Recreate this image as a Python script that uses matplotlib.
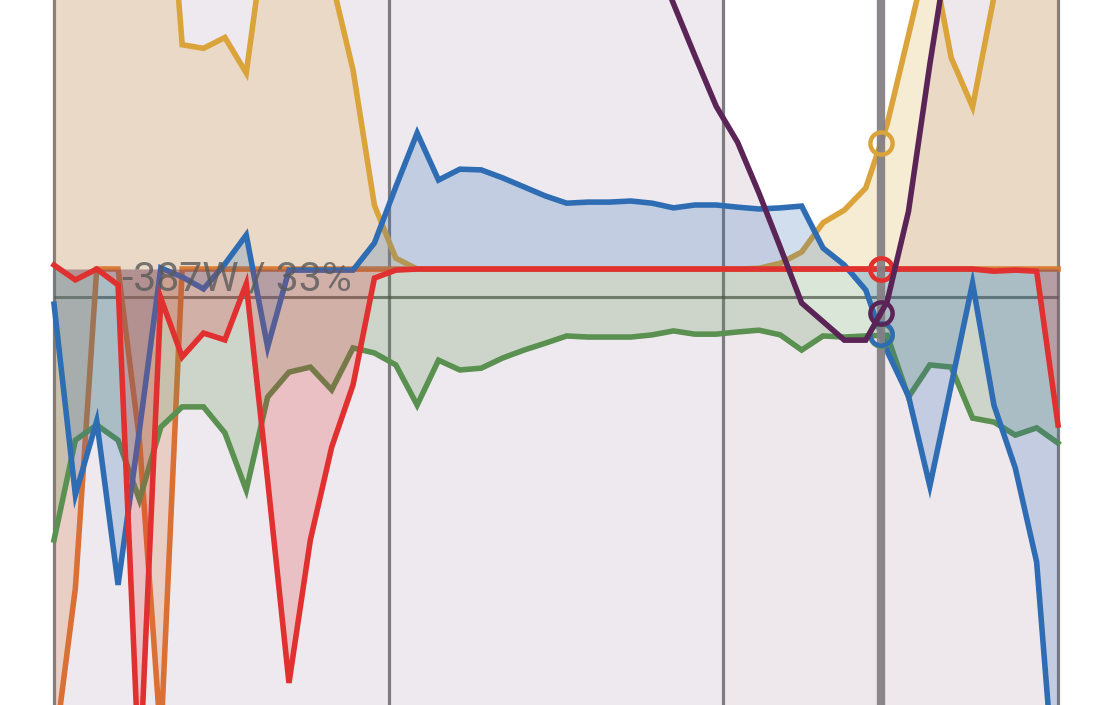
import numpy as np
import matplotlib.pyplot as plt

# samples: 48 points spread over 3 hours
n_points = 48
hours = np.linspace(0, 3, n_points)

# power flows (W)
solar = [6500, 6800, 7000, 7100, 7000, 6900, 3100, 3050, 3200, 2710, 4880, 5200,
         5000, 3990, 2750, 880, 150, 0, 0, 0, 0, 0, 0, 0,
         0, 0, 0, 0, 0, 0, 0, 0, 0, 10, 80, 235,
         640, 815, 1120, 2000, 3230, 4480, 2920, 2240, 3760, 4300, 4500, 4400]
grid = [55, -150, 0, -220, -7060, -400, -1215, -885, -980, -205, -2915, -5720,
        -3745, -2460, -1600, -125, -15, 0, 0, 0, 0, 0, 0, 0,
        0, 0, 0, 0, 0, 0, 0, 0, 0, 0, 0, 0,
        0, 0, 0, 0, 0, 0, 0, 0, -30, -15, -30, -2155]
battery = [-485, -3120, -2100, -4365, -2225, 15, -110, -275, 70, 470, -1080, -15,
           -15, -15, -15, 360, 1135, 1880, 1230, 1380, 1370, 1260, 1135, 1010,
           910, 925, 925, 940, 910, 845, 885, 885, 855, 830, 845, 870,
           290, 55, -290, -1135, -1755, -3000, -1605, -195, -1880, -2750, -4050, -7750]
home = [-3745, -2365, -2155, -2365, -3190, -2185, -1905, -1905, -2265, -3055, -1770, -1425,
        -1355, -1670, -1090, -1160, -1325, -1880, -1260, -1395, -1370, -1230, -1120, -1025,
        -925, -940, -940, -940, -910, -855, -900, -900, -870, -845, -910, -1120,
        -925, -940, -925, -915, -1770, -1325, -1355, -2060, -2115, -2295, -2195, -2405]
heatpump = [-6715, -4410, 0, 0, -2365, -6500, 0, 0, 0, 0, 0, 0,
            0, 0, 0, 0, 0, 0, 0, 0, 0, 0, 0, 0,
            0, 0, 0, 0, 0, 0, 0, 0, 0, 0, 0, 0,
            0, 0, 0, 0, 0, 0, 0, 0, 0, 0, 0, 0]
# battery state of charge (%)
soc = [98, 97, 96, 95, 94, 93, 92, 91, 90, 89, 88, 87,
       86, 85, 84, 83, 82, 81, 80, 79, 78, 77, 75, 73,
       71, 69, 67, 64, 61, 56.7, 52.5, 48.4, 45.5, 41.4, 37.0, 32.5,
       31.0, 29.5, 29.5, 32.6, 39.9, 51.8, 62.7, 70, 75, 79, 82, 85]

power_series = [
    (heatpump, "#DB7035"),
    (solar, "#DAA43A"),
    (home, "#5A9050"),
    (battery, "#2E6CB4"),
    (grid, "#E0302F"),
]
soc_color = "#5A2457"
shade_color = "#EEE9EE"

cursor_hour = 2.471
cursor_watt = -387
hour_lines = [0, 1, 2, 3]
shaded_hours = (0, 2)

w_lim = (-6025, 3718)
soc_lim = (0, 57)
x_lim = (-54 / (1004 / 3), 1065 / (1004 / 3))

fig = plt.figure(figsize=(11.19, 7.05), dpi=100)
rect = [0, 0, 1, 1]
ax_bg = fig.add_axes(rect)
ax = fig.add_axes(rect)
ax_top = fig.add_axes(rect)
for a in (ax_bg, ax, ax_top):
    a.set_xlim(*x_lim)
    a.axis("off")
    a.patch.set_visible(False)
ax.set_ylim(*w_lim)
ax_bg.set_ylim(*soc_lim)
ax_top.set_ylim(*soc_lim)

# SOC area in the background
ax_bg.fill_between(hours, soc, soc_lim[0] - 10, color=soc_color, alpha=0.1, lw=0)
# shaded period
ax.axvspan(*shaded_hours, color=shade_color, lw=0, zorder=0.5)

# hour grid
for h in hour_lines:
    ax.axvline(h, color="#7f7b80", lw=2.3, zorder=1)

# horizontal cursor + label
ax.hlines(cursor_watt, hours[0], hours[-1], color="#444444", lw=2.2, alpha=0.7, zorder=1.5)
frac = (cursor_watt - w_lim[0]) / (w_lim[1] - w_lim[0])
cursor_soc = soc_lim[0] + frac * (soc_lim[1] - soc_lim[0])
ax.annotate(f"{cursor_watt}W / {cursor_soc:.0f}%", xy=(hours[0], cursor_watt),
            xytext=(68, 7), textcoords="offset pixels", va="baseline", ha="left",
            fontsize=29.5, family="Roboto", color="#5a5a5a",
            alpha=0.8, zorder=10.5)

for k, (vals, col) in enumerate(power_series):
    ax.fill_between(hours, vals, 0, color=col, alpha=0.22, lw=0, zorder=2 + 2 * k)
    ax.plot(hours, vals, color=col, lw=4, solid_joinstyle="miter", zorder=3 + 2 * k)

# vertical cursor
ax.axvline(cursor_hour, color="#858185", lw=6, alpha=0.95, zorder=20)

for vals, col in power_series:
    ax.plot(cursor_hour, np.interp(cursor_hour, hours, vals), "o", ms=16, mfc="none",
            mec=col, mew=3.2, zorder=30)

ax_top.plot(hours, soc, color=soc_color, lw=4, solid_joinstyle="miter")
ax_top.plot(cursor_hour, np.interp(cursor_hour, hours, soc), "o", ms=16, mfc="none",
            mec=soc_color, mew=3.2)

fig.savefig("out.png", dpi=100)
